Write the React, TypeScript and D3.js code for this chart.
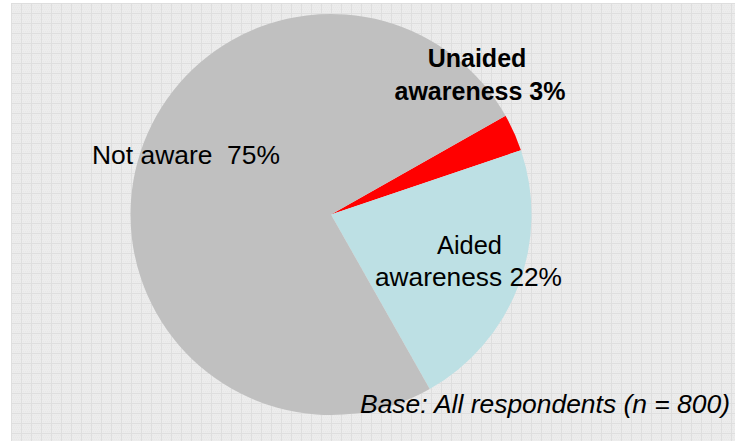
import React from "react";
import * as d3 from "d3";

const categories = ["Unaided awareness", "Aided awareness", "Not aware"];
const values = [3, 22, 75];
const colors = ["#ff0000", "#bde0e4", "#c0c0c0"];

const W = 735;
const H = 441;
const cx = 331;
const cy = 214.5;
const R = 200.5;
const startDeg = 60.5;

export default function App() {
  const pie = d3
    .pie<number>()
    .sort(null)
    .value((d) => d)
    .startAngle((startDeg * Math.PI) / 180)
    .endAngle((startDeg * Math.PI) / 180 + 2 * Math.PI);
  const arcs = pie(values);
  const arc = d3.arc<d3.PieArcDatum<number>>().innerRadius(0).outerRadius(R);
  const font = "'Liberation Sans', Arial, sans-serif";
  return (
    <svg
      width={W}
      height={H}
      style={{ position: "absolute", left: 0, top: 0, display: "block" }}
    >
      <defs>
        <pattern id="grid" width={10} height={10} patternUnits="userSpaceOnUse" x={11} y={3}>
          <rect width={10} height={10} fill="#ececec" />
          {[0, 2, 4, 6, 8].map((i) =>
            [0, 2, 4, 6, 8].map((j) => (
              <rect key={i + "-" + j} x={i + ((j / 2) % 2)} y={j} width={1} height={1} fill="#e7e7e7" />
            ))
          )}
          <rect x={0} y={0} width={10} height={1} fill="#dedede" />
          <rect x={0} y={0} width={1} height={10} fill="#dedede" />
        </pattern>
      </defs>
      <rect x={11} y={3} width={W - 11} height={H - 3} fill="url(#grid)" />
      <g transform={`translate(${cx},${cy})`}>
        {arcs.map((a, i) => (
          <path key={categories[i]} d={arc(a) || ""} fill={colors[i]} />
        ))}
      </g>
      <text
        x={92}
        y={164}
        fontFamily={font}
        fontSize={25.5}
        textLength={188}
        lengthAdjust="spacingAndGlyphs"
        style={{ whiteSpace: "pre" }}
      >
        {"Not aware  " + values[2] + "%"}
      </text>
      <text x={477} y={67} fontFamily={font} fontSize={25} fontWeight="bold" textAnchor="middle">
        Unaided
      </text>
      <text x={480} y={100} fontFamily={font} fontSize={25} fontWeight="bold" textAnchor="middle">
        {"awareness " + values[0] + "%"}
      </text>
      <text x={437} y={254} fontFamily={font} fontSize={25.5} textLength={65} lengthAdjust="spacingAndGlyphs">
        Aided
      </text>
      <text x={375} y={286} fontFamily={font} fontSize={25.5} textLength={187} lengthAdjust="spacingAndGlyphs">
        {"awareness " + values[1] + "%"}
      </text>
      <text x={360} y={413} fontFamily={font} fontSize={26} fontStyle="italic" textLength={370} lengthAdjust="spacingAndGlyphs">
        Base: All respondents (n = 800)
      </text>
    </svg>
  );
}
